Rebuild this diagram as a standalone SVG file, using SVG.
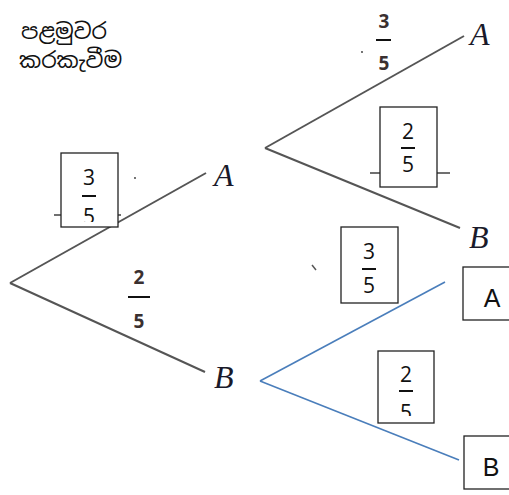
<svg xmlns="http://www.w3.org/2000/svg" width="509" height="495" viewBox="0 0 509 495">
<style>
.ln{stroke:#555;stroke-width:2;fill:none}
.bl{stroke:#4a7ebb;stroke-width:1.6;fill:none}
.box{fill:#fff;stroke:#222;stroke-width:1.3}
.tk{stroke:#222;stroke-width:1.3}
.fr{font-family:"Open Sans","Liberation Sans",sans-serif;font-size:21px;fill:#111;text-anchor:middle}
.fb{font-family:"Open Sans","Liberation Sans",sans-serif;font-size:19px;font-weight:bold;fill:#3a3030;text-anchor:middle}
.fl{stroke:#111;stroke-width:2}
.it{font-family:"Liberation Serif",serif;font-style:italic;font-size:32px;fill:#1a1a2a}
.bx{font-family:"Liberation Sans",sans-serif;font-size:25px;fill:#111;text-anchor:middle}
.si{font-family:"Noto Sans Sinhala","Noto Sans","DejaVu Sans",sans-serif;font-size:22px;fill:#111}
</style>
<defs>
<clipPath id="c1"><rect x="61" y="153" width="57" height="69"/></clipPath>
<clipPath id="c2"><rect x="378" y="351" width="56" height="65"/></clipPath>
</defs>
<text class="si" x="21" y="39">පළමුවර</text>
<text class="si" x="19" y="68">කරකැවීම</text>
<g id="connectors">
<line class="ln" x1="10" y1="283" x2="206" y2="173"/>
<line class="ln" x1="10" y1="283" x2="205" y2="372"/>
<line class="ln" x1="265" y1="148" x2="464" y2="36"/>
<line class="ln" x1="265" y1="148" x2="460" y2="228"/>
<line class="bl" x1="260" y1="381" x2="445" y2="282"/>
<line class="bl" x1="260" y1="381" x2="459" y2="460"/>
</g>
<g id="nodeA1"><text class="it" x="214" y="186">A</text></g>
<g id="nodeB1"><text class="it" x="214" y="388">B</text></g>
<g id="nodeA2"><text class="it" x="470" y="45">A</text></g>
<g id="nodeB2"><text class="it" x="469" y="248">B</text></g>
<g id="nodeA3"><rect class="box" x="463" y="267" width="48" height="53"/><text class="bx" x="492" y="307">A</text></g>
<g id="nodeB3"><rect class="box" x="464" y="436" width="47" height="53"/><text class="bx" x="491" y="476">B</text></g>
<g id="lbl1">
<line class="tk" x1="54" y1="215" x2="61" y2="215"/><line class="tk" x1="118" y1="215" x2="121" y2="215"/>
<rect class="box" x="61" y="153" width="57" height="74"/>
<g clip-path="url(#c1)"><text class="fr" x="89" y="185">3</text><line class="fl" x1="82" y1="196" x2="96" y2="196"/><text class="fr" x="89" y="224">5</text></g>
<circle cx="135" cy="178" r="0.9" fill="#333"/>
</g>
<g id="lbl2">
<text class="fb" x="139" y="284">2</text><line class="fl" x1="128" y1="297" x2="150" y2="297"/><text class="fb" x="139" y="328">5</text>
</g>
<g id="lbl3">
<text class="fb" x="384" y="28">3</text><line class="fl" x1="376" y1="40" x2="391" y2="40"/><text class="fb" x="384" y="70">5</text>
<circle cx="362" cy="52" r="0.9" fill="#333"/>
</g>
<g id="lbl4">
<line class="tk" x1="370" y1="173" x2="380" y2="173"/><line class="tk" x1="437" y1="173" x2="450" y2="173"/>
<rect class="box" x="380" y="107" width="57" height="80"/>
<text class="fr" x="408" y="139">2</text><line class="fl" x1="401" y1="148" x2="415" y2="148"/><text class="fr" x="408" y="172">5</text>
</g>
<g id="lbl5">
<rect class="box" x="341" y="227" width="57" height="76"/>
<text class="fr" x="369" y="259">3</text><line class="fl" x1="362" y1="269" x2="376" y2="269"/><text class="fr" x="369" y="293">5</text>
<line x1="312" y1="265" x2="316" y2="270" stroke="#555" stroke-width="1.5"/>
</g>
<g id="lbl6">
<rect class="box" x="378" y="351" width="56" height="72"/>
<g clip-path="url(#c2)"><text class="fr" x="406" y="382">2</text><line class="fl" x1="399" y1="391" x2="413" y2="391"/><text class="fr" x="406" y="420">5</text></g>
</g>
</svg>
